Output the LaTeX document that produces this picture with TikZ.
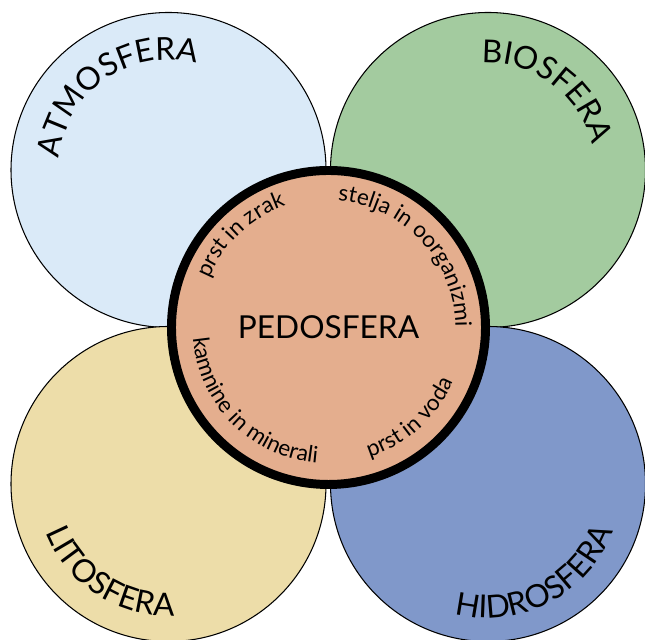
\documentclass[tikz,border=0pt]{standalone}
\usepackage{fontspec}
\setmainfont{Lato}
\usetikzlibrary{calc, decorations.text}
\definecolor{atmoblue}{RGB}{218,234,248}
\definecolor{biogreen}{RGB}{163,203,159}
\definecolor{litoyellow}{RGB}{237,221,169}
\definecolor{hidroblue}{RGB}{128,152,202}
\definecolor{pedoorange}{RGB}{228,174,142}
\newcommand{\bigfont}{\fontsize{18}{21}\selectfont}
\newcommand{\smallfont}{\fontsize{12.8}{15}\selectfont}

\begin{document}
\begin{tikzpicture}[
    sphere/.style={circle, draw=black, line width=0.6pt, minimum size=6.3cm, inner sep=0pt},
    curvetext/.style={decorate, decoration={text along path, text align=center, text={#1}}}
]
    \useasboundingbox (0,0) rectangle (12.9,12.8);

    % Outer spheres
    \foreach \name/\pos/\col in {atmo/{3.37,9.40}/atmoblue, bio/{9.76,9.40}/biogreen, lito/{3.37,3.12}/litoyellow, hidro/{9.76,3.12}/hidroblue}
        \node[sphere, fill=\col] (\name) at (\pos) {};

    % Soil in the middle
    \node[sphere, fill=pedoorange, line width=5.1pt, minimum size=6.28cm, font=\bigfont] (pedo) at (6.57,6.25) {PEDOSFERA};

    % Sphere names
    \path[curvetext={|\bigfont|ATMOSFERA}] ($(atmo.center)+(189.5:2.2)$) arc[start angle=189.5, end angle=59.5, radius=2.2];
    \path[curvetext={|\bigfont|BIOSFERA}] ($(bio.center)+(118.5:2.14)$) arc[start angle=118.5, end angle=-11.5, radius=2.14];
    \path[curvetext={|\bigfont|LITOSFERA}] ($(lito.center)+(172:2.64)$) arc[start angle=172, end angle=302, radius=2.64];
    \path[curvetext={|\bigfont|HIDROSFERA}] ($(hidro.center)+(232.5:2.68)$) arc[start angle=232.5, end angle=362.5, radius=2.68];

    % Contact zones
    \path[curvetext={|\smallfont|prst in zrak}] ($(pedo.center)+(183.5:2.58)$) arc[start angle=183.5, end angle=83.5, radius=2.58];
    \path[curvetext={|\smallfont|stelja in oorganizmi}] ($(pedo.center)+(108:2.54)$) arc[start angle=108, end angle=-22, radius=2.54];
    \path[curvetext={|\smallfont|kamnine in minerali}] ($(pedo.center)+(160:2.72)$) arc[start angle=160, end angle=290, radius=2.72];
    \path[curvetext={|\smallfont|prst in voda}] ($(pedo.center)+(247:2.72)$) arc[start angle=247, end angle=377, radius=2.72];
\end{tikzpicture}
\end{document}
